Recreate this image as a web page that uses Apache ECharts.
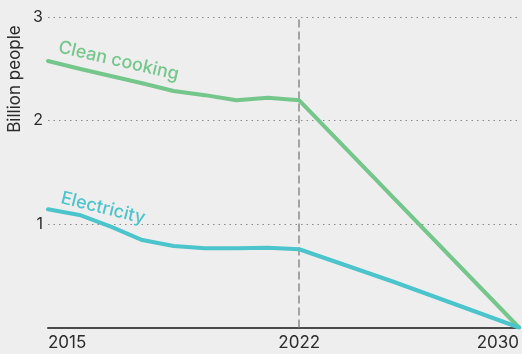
<!DOCTYPE html>
<html>
<head>
<meta charset="utf-8">
<script src="https://cdn.jsdelivr.net/npm/echarts@6/dist/echarts.min.js"></script>
<style>
  html, body { margin: 0; padding: 0; background: #eeeeee; }
  #chart { width: 522px; height: 354px; }
</style>
</head>
<body>
<div id="chart"></div>
<script>
// Time slots along the x axis (one per year step); only some carry a label.
const periods = ['2015', '', '', '', '', '', '', '', '2022', '', '', '', '', '', '', '2030'];

// People without access, billions (null = no observation in that slot).
const cleanCooking = [2.575, 2.50, 2.43, 2.36, 2.285, 2.245, 2.195, 2.22, 2.195,
                      null, null, null, null, null, null, 0];
const electricity  = [1.142, 1.087, 0.974, 0.845, 0.787, 0.765, 0.765, 0.771, 0.756,
                      null, null, 0.442, null, null, null, 0];

const yTicks = [0, 1, 2, 3];

const GREEN = '#74c68b';
const TEAL = '#4cc4cb';
const FONT = 'Inter';

const chart = echarts.init(document.getElementById('chart'));

chart.setOption({
  backgroundColor: '#eeeeee',
  animation: false,
  grid: { left: 48, right: 2, top: 17, bottom: 26.5, containLabel: false },
  xAxis: {
    type: 'category',
    data: periods,
    boundaryGap: false,
    axisLine: { show: true, lineStyle: { color: '#4a4a4a', width: 2 } },
    axisTick: { show: false },
    splitLine: { show: false },
    axisLabel: {
      interval: 0,
      margin: 7,
      color: '#2b2b2b',
      fontFamily: FONT,
      fontSize: 17,
      alignMinLabel: 'left',
      alignMaxLabel: 'right'
    }
  },
  yAxis: {
    type: 'value',
    min: yTicks[0],
    max: yTicks[yTicks.length - 1],
    interval: 1,
    axisLine: { show: false },
    axisTick: { show: false },
    axisLabel: {
      margin: 5,
      color: '#2b2b2b',
      fontFamily: FONT,
      fontSize: 16,
      formatter: v => (v === 0 ? '' : String(v))
    },
    splitLine: {
      show: true,
      lineStyle: { color: '#8a8a8a', width: 1, type: [1.5, 4] }
    }
  },
  graphic: [{
    type: 'text',
    x: 15,
    y: 79,
    rotation: Math.PI / 2,
    style: {
      text: 'Billion people',
      fill: '#2b2b2b',
      font: '17px ' + FONT,
      align: 'center',
      verticalAlign: 'middle'
    }
  }],
  series: [
    {
      name: 'Clean cooking',
      type: 'line',
      data: cleanCooking,
      connectNulls: true,
      showSymbol: false,
      symbol: 'none',
      lineStyle: { color: GREEN, width: 4, join: 'round', cap: 'round' },
      z: 3,
      markLine: {
        silent: true,
        symbol: ['none', 'none'],
        label: { show: false },
        lineStyle: { color: '#8a8a8a', width: 1.5, type: [8, 4] },
        data: [{ xAxis: '2022' }],
        z: 1
      },
      markPoint: {
        silent: true,
        symbolSize: 0,
        data: [{
          coord: [2, 2.594],
          label: {
            show: true,
            formatter: 'Clean cooking',
            position: 'inside',
            offset: [8, 0],
            rotate: -13,
            color: GREEN,
            fontFamily: FONT,
            fontSize: 18,
            fontWeight: 500
          }
        }]
      }
    },
    {
      name: 'Electricity',
      type: 'line',
      data: electricity,
      connectNulls: true,
      showSymbol: false,
      symbol: 'none',
      lineStyle: { color: TEAL, width: 4, join: 'round', cap: 'round' },
      z: 4,
      markPoint: {
        silent: true,
        symbolSize: 0,
        data: [{
          coord: [2, 1.135],
          label: {
            show: true,
            formatter: 'Electricity',
            position: 'inside',
            offset: [-8, 0],
            rotate: -14,
            color: TEAL,
            fontFamily: FONT,
            fontSize: 18,
            fontWeight: 500
          }
        }]
      }
    }
  ]
});
</script>
</body>
</html>
